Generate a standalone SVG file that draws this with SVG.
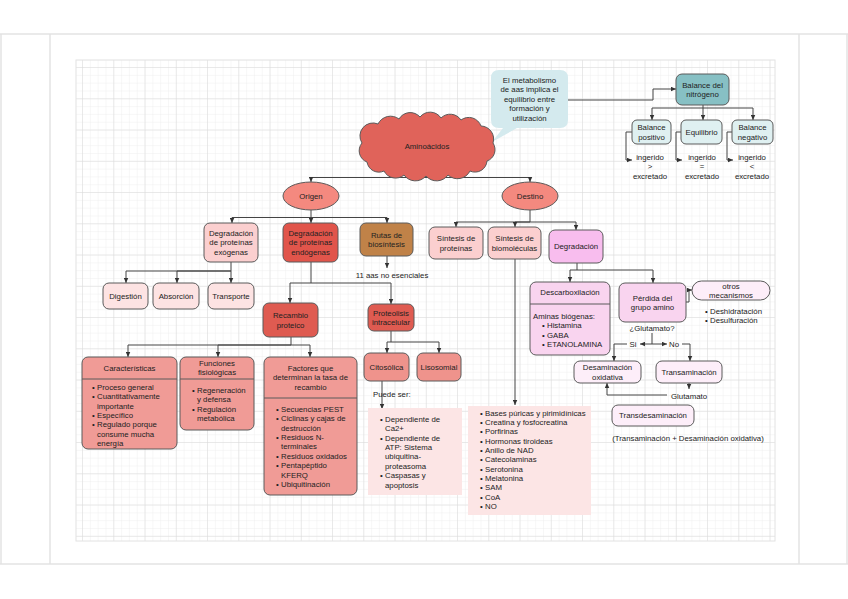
<svg xmlns="http://www.w3.org/2000/svg" width="848" height="599" viewBox="0 0 848 599">
<style>
text{font-family:"Liberation Sans",Arial,sans-serif;font-size:7.8px;fill:#222}
.c{text-anchor:middle}
.n{stroke:#5a5a5a;stroke-width:1}
.e{fill:none;stroke:#444;stroke-width:1;marker-end:url(#ar)}
.l{fill:none;stroke:#444;stroke-width:1}
.d{stroke:#5a5a5a;stroke-width:1}
</style>
<defs>
<marker id="ar" viewBox="0 0 10 10" refX="10" refY="5" markerWidth="5" markerHeight="5" orient="auto" markerUnits="userSpaceOnUse"><path d="M0,0.5 L10,5 L0,9.5 z" fill="#333"/></marker>
<pattern id="gmin" width="7.8125" height="7.8125" patternUnits="userSpaceOnUse" x="113.3" y="98.3"><path d="M0 0 V7.8125 M0 0 H7.8125" stroke="#ebebeb" stroke-width="0.8" fill="none"/></pattern>
<pattern id="gmaj" width="31.25" height="31.25" patternUnits="userSpaceOnUse" x="113.3" y="98.3"><path d="M0 0 V31.25 M0 0 H31.25" stroke="#dadada" stroke-width="1" fill="none"/></pattern>
</defs>
<rect width="848" height="599" fill="#fff"/>
<g id="page" stroke="#e3e3e3" stroke-width="1.5" fill="none">
<path d="M0 34 H848 M0 564 H848 M1 34 V564 M50 34 V564 M799 34 V564 M847 34 V564"/>
</g>
<g id="grid">
<rect x="76" y="60" width="699" height="481" fill="url(#gmin)"/>
<rect x="76" y="60" width="699" height="481" fill="url(#gmaj)"/>
<rect x="76" y="60" width="699" height="481" fill="none" stroke="#e2e2e2" stroke-width="1"/>
</g>

<g id="connectors">
<path class="e" d="M428,175 V177.5 H311 V182"/>
<path class="e" d="M428,177.5 H530 V182"/>
<path class="e" d="M568,100 H653 V89 H676"/>
<path class="e" d="M703,105 V108 H652 V120"/>
<path class="e" d="M703,108 V120"/>
<path class="e" d="M703,108 H753 V120"/>
<path class="e" d="M632,132 H626 V160 H632"/>
<path class="e" d="M681,132 H676 V160 H682"/>
<path class="e" d="M732,132 H727 V160 H733"/>
<path class="e" d="M311,210 V217.5 H232 V223"/>
<path class="e" d="M311,217.5 V223"/>
<path class="e" d="M311,217.5 H387 V223"/>
<path class="e" d="M387,256 V268"/>
<path class="e" d="M231,262 V271 H126 V283"/>
<path class="e" d="M231,271 H177 V283"/>
<path class="e" d="M231,271 V283"/>
<path class="e" d="M311,262 V283 H290 V303"/>
<path class="e" d="M311,283 H391 V304"/>
<path class="e" d="M291,337 V345 H128 V357"/>
<path class="e" d="M291,345 H218 V357"/>
<path class="e" d="M291,345 H310 V357"/>
<path class="e" d="M391,331 V342 H387 V353"/>
<path class="e" d="M391,342 H439 V353"/>
<path class="e" d="M382,381 V409"/>
<path class="e" d="M530,210 V222 H456 V227"/>
<path class="e" d="M530,222 H515 V227"/>
<path class="e" d="M530,222 H576 V230"/>
<path class="e" d="M515,259 V405"/>
<path class="e" d="M577,263 V270 H570 V282"/>
<path class="e" d="M577,270 H653 V283"/>
<path class="e" d="M686,302 H689 V290 H692"/>
<path class="e" d="M652,333 V344 H640"/>
<path class="e" d="M652,344 H667"/>
<path class="e" d="M627,344 H614 V361"/>
<path class="e" d="M682,344 H690 V361"/>
<path class="e" d="M689,383 V389"/>
<path class="e" d="M667,395 H607 V383"/>
</g>

<g id="callout">
<path d="M499,70 H560 Q568,70 568,78 V120 Q568,128 560,128 H517 L492,142 L503,128 H499 Q491,128 491,120 V78 Q491,70 499,70 Z" fill="#d4eaee"/>
<text class="c" x="529.5" y="83"><tspan x="529.5">El metabolismo</tspan><tspan x="529.5" dy="9.4">de aas implica el</tspan><tspan x="529.5" dy="9.4">equilibrio entre</tspan><tspan x="529.5" dy="9.4">formación y</tspan><tspan x="529.5" dy="9.4">utilización</tspan></text>
</g>

<g id="aminoacidos">
<path class="n" fill="#e0635a" d="M362,143 A13,13 0 0 1 378,124 A14,14 0 0 1 399,119 A13,13 0 0 1 420,117 A13,13 0 0 1 441,118 A13,13 0 0 1 461,120 A13,13 0 0 1 481,126 A13,13 0 0 1 493,143 A12,12 0 0 1 487,161 A12,12 0 0 1 470,171 A14,14 0 0 1 448,175 A14,14 0 0 1 426,176 A14,14 0 0 1 404,175 A13,13 0 0 1 384,171 A12,12 0 0 1 367,162 A12,12 0 0 1 362,143 Z"/>
<text class="c" x="427" y="148.8">Aminoácidos</text>
</g>

<g id="balance-nitrogeno">
<rect class="n" x="676" y="74" width="53" height="31" rx="6" fill="#87c0c4"/>
<text class="c" x="702.5" y="87.6"><tspan x="702.5">Balance del</tspan><tspan x="702.5" dy="9.4">nitrógeno</tspan></text>
</g>
<g id="balance-positivo">
<rect class="n" x="632" y="120" width="39" height="24" rx="5" fill="#dff0f1"/>
<text class="c" x="651.5" y="130.1"><tspan x="651.5">Balance</tspan><tspan x="651.5" dy="9.4">positivo</tspan></text>
</g>
<g id="equilibrio">
<rect class="n" x="681" y="120" width="41" height="24" rx="5" fill="#dff0f1"/>
<text class="c" x="701.5" y="134.8">Equilibrio</text>
</g>
<g id="balance-negativo">
<rect class="n" x="732" y="120" width="41" height="24" rx="5" fill="#dff0f1"/>
<text class="c" x="752.5" y="130.1"><tspan x="752.5">Balance</tspan><tspan x="752.5" dy="9.4">negativo</tspan></text>
</g>
<g id="ingerido-mayor"><text class="c" x="650" y="159.8"><tspan x="650">ingerido</tspan><tspan x="650" dy="9.5">&gt;</tspan><tspan x="650" dy="9.5">excretado</tspan></text></g>
<g id="ingerido-igual"><text class="c" x="702" y="159.8"><tspan x="702">ingerido</tspan><tspan x="702" dy="9.5">=</tspan><tspan x="702" dy="9.5">excretado</tspan></text></g>
<g id="ingerido-menor"><text class="c" x="752" y="159.8"><tspan x="752">ingerido</tspan><tspan x="752" dy="9.5">&lt;</tspan><tspan x="752" dy="9.5">excretado</tspan></text></g>

<g id="origen">
<ellipse class="n" cx="311" cy="196" rx="28" ry="14" fill="#f4897f"/>
<text class="c" x="311" y="198.8">Origen</text>
</g>
<g id="destino">
<ellipse class="n" cx="530" cy="196" rx="28" ry="14" fill="#f4897f"/>
<text class="c" x="530" y="198.8">Destino</text>
</g>

<g id="exogenas">
<rect class="n" x="204" y="223" width="54" height="39" rx="6" fill="#fbcfcf"/>
<text class="c" x="231" y="235.9"><tspan x="231">Degradación</tspan><tspan x="231" dy="9.4">de proteínas</tspan><tspan x="231" dy="9.4">exógenas</tspan></text>
</g>
<g id="endogenas">
<rect class="n" x="283" y="223" width="55" height="39" rx="6" fill="#e1554b"/>
<text class="c" x="310.5" y="235.9"><tspan x="310.5">Degradación</tspan><tspan x="310.5" dy="9.4">de proteínas</tspan><tspan x="310.5" dy="9.4">endógenas</tspan></text>
</g>
<g id="rutas">
<rect class="n" x="360" y="223" width="53" height="33" rx="6" fill="#c08248"/>
<text class="c" x="386.5" y="237.6"><tspan x="386.5">Rutas de</tspan><tspan x="386.5" dy="9.4">biosíntesis</tspan></text>
</g>
<g id="aas-no-esenciales"><text class="c" x="392" y="277.8">11 aas no esenciales</text></g>

<g id="digestion">
<rect class="n" x="103" y="283" width="45" height="26" rx="6" fill="#fde3e3"/>
<text class="c" x="125.5" y="298.8">Digestión</text>
</g>
<g id="absorcion">
<rect class="n" x="153" y="283" width="46" height="26" rx="6" fill="#fde3e3"/>
<text class="c" x="176" y="298.8">Absorción</text>
</g>
<g id="transporte">
<rect class="n" x="208" y="283" width="46" height="26" rx="6" fill="#fde3e3"/>
<text class="c" x="231" y="298.8">Transporte</text>
</g>

<g id="recambio">
<rect class="n" x="263" y="303" width="55" height="34" rx="6" fill="#df5b51"/>
<text class="c" x="290.5" y="318.1"><tspan x="290.5">Recambio</tspan><tspan x="290.5" dy="9.4">proteico</tspan></text>
</g>
<g id="proteolisis">
<rect class="n" x="368" y="304" width="46" height="27" rx="6" fill="#df5b51"/>
<text class="c" x="391" y="315.6"><tspan x="391">Proteolisis</tspan><tspan x="391" dy="9.4">intracelular</tspan></text>
</g>

<g id="caracteristicas">
<rect class="n" x="82" y="357" width="95" height="92" rx="6" fill="#f09b96"/>
<line class="d" x1="82" y1="379" x2="177" y2="379"/>
<text class="c" x="129.5" y="370.8">Características</text>
<text x="92" y="389.8"><tspan x="92">•</tspan><tspan x="97">Proceso general</tspan><tspan x="92" dy="9.4">•</tspan><tspan x="97">Cuantitativamente</tspan><tspan x="97" dy="9.4">importante</tspan><tspan x="92" dy="9.4">•</tspan><tspan x="97">Específico</tspan><tspan x="92" dy="9.4">•</tspan><tspan x="97">Regulado porque</tspan><tspan x="97" dy="9.4">consume mucha</tspan><tspan x="97" dy="9.4">energía</tspan></text>
</g>
<g id="funciones">
<rect class="n" x="180" y="357" width="74" height="73" rx="6" fill="#f09b96"/>
<line class="d" x1="180" y1="379" x2="254" y2="379"/>
<text class="c" x="217" y="365.8"><tspan x="217">Funciones</tspan><tspan x="217" dy="9.4">fisiológicas</tspan></text>
<text x="192" y="392.8"><tspan x="192">•</tspan><tspan x="197">Regeneración</tspan><tspan x="197" dy="9.4">y defensa</tspan><tspan x="192" dy="9.4">•</tspan><tspan x="197">Regulación</tspan><tspan x="197" dy="9.4">metabólica</tspan></text>
</g>
<g id="factores">
<rect class="n" x="264" y="357" width="93" height="138" rx="6" fill="#f09b96"/>
<line class="d" x1="264" y1="398" x2="357" y2="398"/>
<text class="c" x="310.5" y="370.8"><tspan x="310.5">Factores que</tspan><tspan x="310.5" dy="9.4">determinan la tasa de</tspan><tspan x="310.5" dy="9.4">recambio</tspan></text>
<text x="276" y="411.8"><tspan x="276">•</tspan><tspan x="281">Secuencias PEST</tspan><tspan x="276" dy="9.4">•</tspan><tspan x="281">Ciclinas y cajas de</tspan><tspan x="281" dy="9.4">destrucción</tspan><tspan x="276" dy="9.4">•</tspan><tspan x="281">Residuos N-</tspan><tspan x="281" dy="9.4">terminales</tspan><tspan x="276" dy="9.4">•</tspan><tspan x="281">Residuos oxidados</tspan><tspan x="276" dy="9.4">•</tspan><tspan x="281">Pentapéptido</tspan><tspan x="281" dy="9.4">KFERQ</tspan><tspan x="276" dy="9.4">•</tspan><tspan x="281">Ubiquitinación</tspan></text>
</g>

<g id="citosolica">
<rect class="n" x="364" y="353" width="45" height="28" rx="6" fill="#ef938c"/>
<text class="c" x="386.5" y="369.8">Citosólica</text>
</g>
<g id="lisosomial">
<rect class="n" x="417" y="353" width="44" height="28" rx="6" fill="#ef938c"/>
<text class="c" x="439" y="369.8">Lisosomial</text>
</g>
<g id="puede-ser"><text x="373" y="396.8">Puede ser:</text></g>
<g id="lista-citosolica">
<rect x="368" y="408" width="94" height="87" fill="#fce5e5"/>
<text x="380" y="421.8"><tspan x="380">•</tspan><tspan x="385">Dependiente de</tspan><tspan x="385" dy="9.4">Ca2+</tspan><tspan x="380" dy="9.4">•</tspan><tspan x="385">Dependiente de</tspan><tspan x="385" dy="9.4">ATP: Sistema</tspan><tspan x="385" dy="9.4">ubiquitina-</tspan><tspan x="385" dy="9.4">proteasoma</tspan><tspan x="380" dy="9.4">•</tspan><tspan x="385">Caspasas y</tspan><tspan x="385" dy="9.4">apoptosis</tspan></text>
</g>

<g id="sintesis-proteinas">
<rect class="n" x="429" y="227" width="54" height="32" rx="6" fill="#fbcfcf"/>
<text class="c" x="456" y="241.1"><tspan x="456">Síntesis de</tspan><tspan x="456" dy="9.4">proteínas</tspan></text>
</g>
<g id="sintesis-biomoleculas">
<rect class="n" x="488" y="227" width="53" height="32" rx="6" fill="#fbcfcf"/>
<text class="c" x="514.5" y="241.1"><tspan x="514.5">Síntesis de</tspan><tspan x="514.5" dy="9.4">biomoléculas</tspan></text>
</g>
<g id="degradacion">
<rect class="n" x="549" y="230" width="54" height="33" rx="6" fill="#f8bdee"/>
<text class="c" x="576" y="249.3">Degradación</text>
</g>
<g id="lista-biomoleculas">
<rect x="468" y="406" width="123" height="109" fill="#fce5e5"/>
<text x="480" y="415.8"><tspan x="480">•</tspan><tspan x="485">Bases púricas y pirimidínicas</tspan><tspan x="480" dy="9.3">•</tspan><tspan x="485">Creatina y fosfocreatina</tspan><tspan x="480" dy="9.3">•</tspan><tspan x="485">Porfirinas</tspan><tspan x="480" dy="9.3">•</tspan><tspan x="485">Hormonas tiroideas</tspan><tspan x="480" dy="9.3">•</tspan><tspan x="485">Anillo de NAD</tspan><tspan x="480" dy="9.3">•</tspan><tspan x="485">Catecolaminas</tspan><tspan x="480" dy="9.3">•</tspan><tspan x="485">Serotonina</tspan><tspan x="480" dy="9.3">•</tspan><tspan x="485">Melatonina</tspan><tspan x="480" dy="9.3">•</tspan><tspan x="485">SAM</tspan><tspan x="480" dy="9.3">•</tspan><tspan x="485">CoA</tspan><tspan x="480" dy="9.3">•</tspan><tspan x="485">NO</tspan></text>
</g>

<g id="descarboxilacion">
<rect class="n" x="530" y="282" width="80" height="73" rx="6" fill="#f9d4ef"/>
<line class="d" x1="530" y1="304" x2="610" y2="304"/>
<text class="c" x="570" y="294.8">Descarboxilación</text>
<text x="533" y="318.8"><tspan x="533">Aminas biógenas:</tspan><tspan x="542" dy="9.4">•</tspan><tspan x="547">Histamina</tspan><tspan x="542" dy="9.4">•</tspan><tspan x="547">GABA</tspan><tspan x="542" dy="9.4">•</tspan><tspan x="547">ETANOLAMINA</tspan></text>
</g>
<g id="perdida-amino">
<rect class="n" x="619" y="283" width="67" height="39" rx="6" fill="#f9d4ef"/>
<text class="c" x="652.5" y="300.6"><tspan x="652.5">Pérdida del</tspan><tspan x="652.5" dy="9.4">grupo amino</tspan></text>
</g>
<g id="otros-mecanismos">
<rect class="n" x="692" y="281" width="78" height="19" rx="9.5" fill="#fdeef9"/>
<text class="c" x="731" y="288.6"><tspan x="731">otros</tspan><tspan x="731" dy="9.4">mecanismos</tspan></text>
<text x="705" y="313.8"><tspan x="705">•</tspan><tspan x="710">Deshidratación</tspan><tspan x="705" dy="9.4">•</tspan><tspan x="710">Desulfuración</tspan></text>
</g>
<g id="glutamato-pregunta"><text class="c" x="652" y="330.8">¿Glutamato?</text></g>
<g id="si"><text class="c" x="633" y="346.8">Si</text></g>
<g id="no"><text class="c" x="674" y="346.8">No</text></g>
<g id="desaminacion">
<rect class="n" x="574" y="361" width="67" height="22" rx="6" fill="#fdeef9"/>
<text class="c" x="607.5" y="370.1"><tspan x="607.5">Desaminación</tspan><tspan x="607.5" dy="9.4">oxidativa</tspan></text>
</g>
<g id="transaminacion">
<rect class="n" x="656" y="361" width="66" height="22" rx="6" fill="#fdeef9"/>
<text class="c" x="689" y="374.8">Transaminación</text>
</g>
<g id="glutamato"><text class="c" x="689" y="398.8">Glutamato</text></g>
<g id="transdesaminacion">
<rect class="n" x="612" y="405" width="82" height="21" rx="6" fill="#fdeef9"/>
<text class="c" x="653" y="418.3">Transdesaminación</text>
</g>
<g id="nota-transdesaminacion"><text class="c" x="688" y="440.8">(Transaminación + Desaminación oxidativa)</text></g>
</svg>
